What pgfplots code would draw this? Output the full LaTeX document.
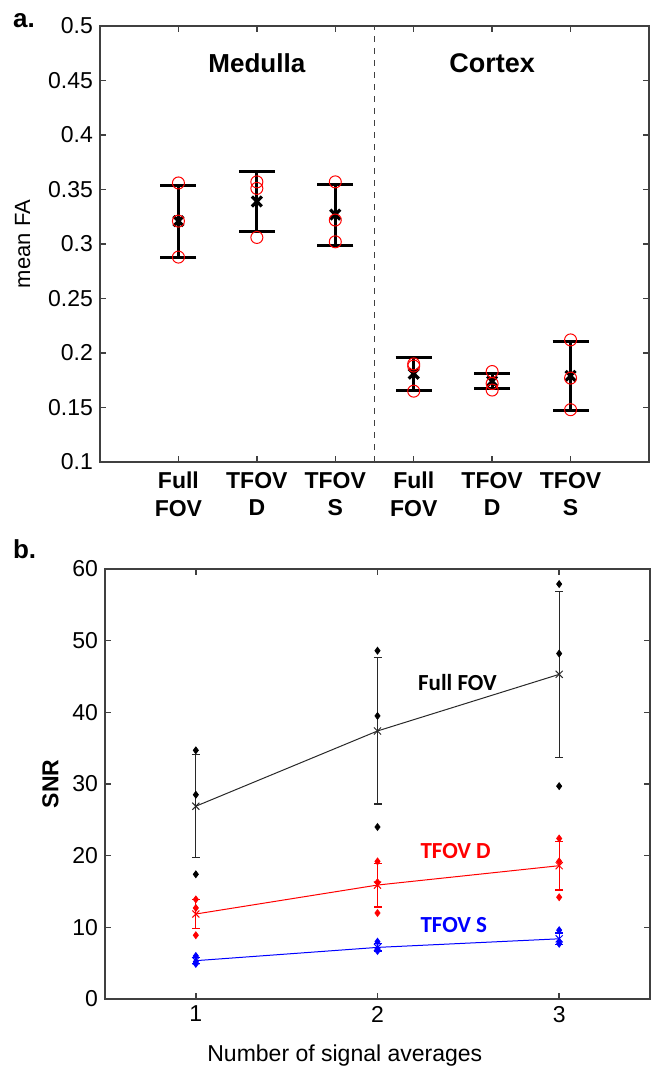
\documentclass[border=0pt]{standalone}
\usepackage{fontspec}
\setmainfont{Liberation Sans}
\newfontfamily\calibri{Carlito}
\usepackage{pgfplots}
\pgfplotsset{compat=1.18}

\definecolor{axgray}{RGB}{64,64,64}
\definecolor{lnblack}{RGB}{40,40,40}

\pgfplotsset{
  fig/.style={
    scale only axis,
    axis line style={axgray, line width=0.7pt},
    tick style={axgray, line width=0.7pt},
    major tick length=3pt,
    tick align=inside,
    ticklabel style={font=\fontsize{11.5}{13}\selectfont},
    /pgf/number format/assume math mode=true,
    clip=false,
  },
  % error bars for the FA panel
  fabar/.style={
    only marks, mark=x, mark size=3.5pt,
    mark options={line width=1.6pt, black},
    error bars/.cd, y dir=both, y explicit,
    error bar style={line width=1.5pt, black},
    error mark options={rotate=90, line width=1.5pt, black, mark size=9pt},
  },
  snrline/.style={
    #1, line width=0.5pt, mark=x, mark size=2.5pt,
    error bars/.cd, y dir=both, y explicit,
    error bar style={#1, line width=0.6pt},
    error mark options={rotate=90, #1, line width=0.6pt, mark size=2pt},
  },
  snrdots/.style={only marks, mark=diamond*, mark size=1.7pt, #1},
}

\begin{document}
\begin{tikzpicture}
\useasboundingbox (0,0) rectangle (325pt,-534pt);

\node[anchor=base west, font=\fontsize{13}{15}\bfseries\selectfont] at (3pt,-14pt) {a.};
\node[anchor=base west, font=\fontsize{13}{15}\bfseries\selectfont] at (3pt,-279pt) {b.};

% ---- a. mean FA ----
\begin{axis}[fig, at={(50pt,-13pt)}, anchor=north west,
  width=274.5pt, height=218pt,
  xmin=0, xmax=7, ymin=0.1, ymax=0.5,
  xtick={1,...,6},
  xticklabels={{Full\\FOV},{TFOV\\D},{TFOV\\S},{Full\\FOV},{TFOV\\D},{TFOV\\S}},
  xticklabel style={align=center, yshift=-1.5pt, font=\fontsize{11.5}{13.8}\bfseries\selectfont},
  ytick={0.1,0.15,0.2,0.25,0.3,0.35,0.4,0.45,0.5},
  yticklabel style={/pgf/number format/fixed, /pgf/number format/precision=2},
  ylabel={mean FA},
  ylabel style={font=\fontsize{11}{13}\selectfont, yshift=2pt},
]
\addplot[axgray, dashed, line width=0.8pt] coordinates {(3.5,0.1) (3.5,0.5)};

\addplot[fabar] coordinates {
  (1,0.321) +- (0,0.033)
  (2,0.339) +- (0,0.0275)
  (3,0.327) +- (0,0.028)
  (4,0.181) +- (0,0.015)
  (5,0.174) +- (0,0.007)
  (6,0.179) +- (0,0.032)
};
\addplot[only marks, mark=o, mark size=3pt, red, mark options={line width=0.5pt}] coordinates {
  (1,0.356) (1,0.321) (1,0.288)
  (2,0.357) (2,0.351) (2,0.306)
  (3,0.357) (3,0.322) (3,0.302)
  (4,0.190) (4,0.188) (4,0.165)
  (5,0.183) (5,0.172) (5,0.166)
  (6,0.212) (6,0.177) (6,0.148)
};

\node[font=\fontsize{13}{15}\bfseries\selectfont] at (axis cs:2,0.466) {Medulla};
\node[font=\fontsize{13.5}{15}\bfseries\selectfont] at (axis cs:5,0.466) {Cortex};
\end{axis}

% ---- b. SNR ----
\begin{axis}[fig, at={(52.5pt,-284.5pt)}, anchor=north west,
  width=272.5pt, height=215pt,
  xmin=0.5, xmax=3.5, ymin=0, ymax=60,
  xtick={1,2,3}, ytick={0,10,...,60},
  xlabel={Number of signal averages},
  xlabel style={font=\fontsize{11.5}{13}\selectfont,
    at={(axis description cs:0.44,0)}, anchor=base, yshift=-31pt},
  ylabel={SNR},
  ylabel style={font=\fontsize{11.5}{13}\bfseries\selectfont},
]
\addplot[snrline=lnblack] coordinates {
  (1,26.9) +- (0,7.2)
  (2,37.4) +- (0,10.2)
  (3,45.3) +- (0,11.6)
};
\addplot[snrdots=black] coordinates {
  (1,34.7) (1,28.5) (1,17.4)
  (2,48.6) (2,39.5) (2,24.0)
  (3,57.9) (3,48.2) (3,29.7)
};

\addplot[snrline=red] coordinates {
  (1,11.86) +- (0,2.0)
  (2,15.9) +- (0,3.05)
  (3,18.6) +- (0,3.4)
};
\addplot[snrdots=red] coordinates {
  (1,13.9) (1,12.7) (1,8.9)
  (2,19.2) (2,16.3) (2,12.0)
  (3,22.4) (3,19.2) (3,14.2)
};

\addplot[snrline=blue] coordinates {
  (1,5.35) +- (0,0.4)
  (2,7.2) +- (0,0.5)
  (3,8.4) +- (0,0.8)
};
\addplot[snrdots=blue] coordinates {
  (1,6.0) (1,5.2) (1,4.9)
  (2,8.0) (2,7.0) (2,6.7)
  (3,9.6) (3,8.0) (3,7.7)
};

\node[font=\fontsize{11.5}{13}\calibri\bfseries\selectfont] at (axis cs:2.44,44.1) {Full FOV};
\node[font=\fontsize{11.5}{13}\calibri\bfseries\selectfont, red] at (axis cs:2.43,20.6) {TFOV D};
\node[font=\fontsize{11.5}{13}\calibri\bfseries\selectfont, blue] at (axis cs:2.42,10.3) {TFOV S};
\end{axis}
\end{tikzpicture}
\end{document}
